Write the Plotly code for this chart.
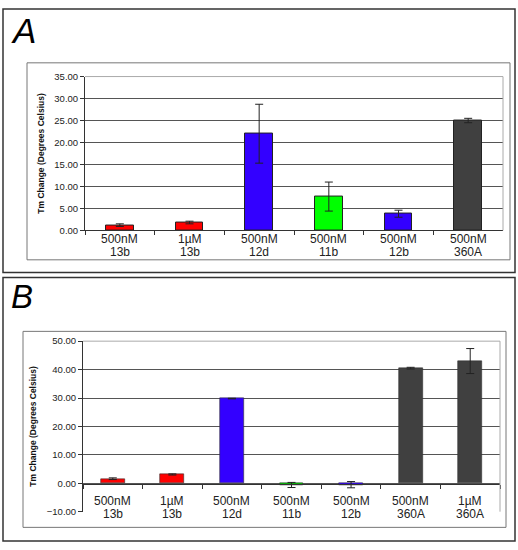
import plotly.graph_objects as go

W, H = 518, 550

# ---- data ----
conc_a = ["500nM", "1µM", "500nM", "500nM", "500nM", "500nM"]
cmpd_a = ["13b", "13b", "12d", "11b", "12b", "360A"]
vals_a = [1.2, 1.8, 22.0, 7.7, 3.8, 25.0]
errs_a = [0.3, 0.3, 6.7, 3.3, 0.8, 0.5]
cols_a = ["#FF0000", "#FF0000", "#3300FF", "#00FF00", "#3300FF", "#404040"]

conc_b = ["500nM", "1µM", "500nM", "500nM", "500nM", "500nM", "1µM"]
cmpd_b = ["13b", "13b", "12d", "11b", "12b", "360A", "360A"]
vals_b = [1.6, 3.1, 29.8, -0.6, -0.5, 40.5, 43.0]
errs_b = [0.3, 0.2, 0.1, 0.9, 1.1, 0.3, 4.4]
cols_b = ["#FF0000", "#FF0000", "#3300FF", "#00CC00", "#3300FF", "#404040", "#404040"]

ytitle = "Tm Change (Degrees Celsius)"

cats_a = [c + " " + d for c, d in zip(conc_a, cmpd_a)]
cats_b = [c + " " + d for c, d in zip(conc_b, cmpd_b)]


def px(x):
    return x / W


def py(y):
    return 1 - y / H


fig = go.Figure()

fig.add_trace(go.Bar(
    x=cats_a, y=vals_a, width=0.4,
    marker=dict(color=cols_a, line=dict(color="#222222", width=1)),
    error_y=dict(type="data", array=errs_a, color="#222222", thickness=1, width=4),
    xaxis="x", yaxis="y", showlegend=False,
))
fig.add_trace(go.Bar(
    x=cats_b, y=vals_b, width=0.4,
    marker=dict(color=cols_b, line=dict(color="#333333", width=0.6)),
    error_y=dict(type="data", array=errs_b, color="#222222", thickness=1, width=4),
    xaxis="x2", yaxis="y2", showlegend=False,
))

FONT = "Arial, Liberation Sans, sans-serif"
tickfont = dict(family=FONT, size=9.5, color="#222222")
catfont = dict(family=FONT, size=12, color="#222222")
titlefont = dict(family=FONT, size=8.5, color="#111111")

fig.update_layout(
    width=W, height=H,
    margin=dict(l=0, r=0, t=0, b=0),
    paper_bgcolor="white", plot_bgcolor="white",
    bargap=0,
    xaxis=dict(
        domain=[px(85), px(503)], anchor="y", type="category",
        showline=True, linecolor="#333333", linewidth=1,
        ticks="outside", tickson="boundaries", ticklen=4, tickcolor="#333333",
        showgrid=False, showticklabels=False,
    ),
    yaxis=dict(
        domain=[py(229), py(72)], anchor="x", range=[0, 35], dtick=5,
        tickformat=".2f", showline=True, linecolor="#333333", linewidth=1,
        ticks="outside", ticklen=4, tickcolor="#333333",
        showgrid=True, gridcolor="#555555", gridwidth=1, zeroline=False,
        tickfont=tickfont,
        title=dict(text="<b>" + ytitle + "</b>", font=titlefont, standoff=8),
    ),
    xaxis2=dict(
        domain=[px(83), px(500)], anchor="free", position=py(487.5), type="category",
        showline=True, linecolor="#333333", linewidth=1,
        ticks="outside", tickson="boundaries", ticklen=4, tickcolor="#333333",
        showgrid=False, showticklabels=False,
    ),
    yaxis2=dict(
        domain=[py(516), py(342)], anchor="x2", range=[-10, 50], dtick=10,
        tickformat=".2f", showline=True, linecolor="#333333", linewidth=1,
        ticks="outside", ticklen=4, tickcolor="#333333",
        showgrid=True, gridcolor="#555555", gridwidth=1, zeroline=False,
        tickfont=tickfont,
        title=dict(text="<b>" + ytitle + "</b>", font=titlefont, standoff=8),
    ),
)

shapes = []
# outer panel borders
shapes.append(dict(type="rect", xref="paper", yref="paper", x0=px(3), x1=px(515), y0=py(272), y1=py(3),
                   line=dict(color="#333333", width=1.5)))
shapes.append(dict(type="rect", xref="paper", yref="paper", x0=px(3), x1=px(515), y0=py(546), y1=py(277),
                   line=dict(color="#333333", width=1.5)))
# inner chart area borders
shapes.append(dict(type="rect", xref="paper", yref="paper", x0=px(27), x1=px(510), y0=py(259), y1=py(58),
                   line=dict(color="#777777", width=1)))
shapes.append(dict(type="rect", xref="paper", yref="paper", x0=px(23), x1=px(506), y0=py(532), y1=py(332),
                   line=dict(color="#777777", width=1)))
# plot area border (top + right) light gray
for (x0, x1, y0, y1) in [(85, 503, 229, 72), (83, 500, 516, 342)]:
    shapes.append(dict(type="line", xref="paper", yref="paper", x0=px(x0), x1=px(x1), y0=py(y1), y1=py(y1),
                       line=dict(color="#AAAAAA", width=1)))
    shapes.append(dict(type="line", xref="paper", yref="paper", x0=px(x1), x1=px(x1), y0=py(y0), y1=py(y1),
                       line=dict(color="#AAAAAA", width=1)))
fig.update_layout(shapes=shapes)

# two-line category labels (tight leading)
for cats, concs, cmpds, xr, y1, y2 in [(cats_a, conc_a, cmpd_a, "x", 238, 251),
                                       (cats_b, conc_b, cmpd_b, "x2", 505, 518)]:
    for cat, c, d in zip(cats, concs, cmpds):
        fig.add_annotation(text=c, xref=xr, yref="paper", x=cat, y=py(y1), yanchor="middle",
                           showarrow=False, font=catfont)
        fig.add_annotation(text=d, xref=xr, yref="paper", x=cat, y=py(y2), yanchor="middle",
                           showarrow=False, font=catfont)

fig.add_annotation(text="<i>A</i>", xref="paper", yref="paper", x=px(9), y=py(3),
                   xanchor="left", yanchor="top", showarrow=False,
                   font=dict(family=FONT, size=35, color="black"))
fig.add_annotation(text="<i>B</i>", xref="paper", yref="paper", x=px(9), y=py(276),
                   xanchor="left", yanchor="top", showarrow=False,
                   font=dict(family=FONT, size=33, color="black"))

fig.write_html("out.html", config={"displayModeBar": False},
               post_script="document.body.style.margin='0';document.body.style.padding='0';")
